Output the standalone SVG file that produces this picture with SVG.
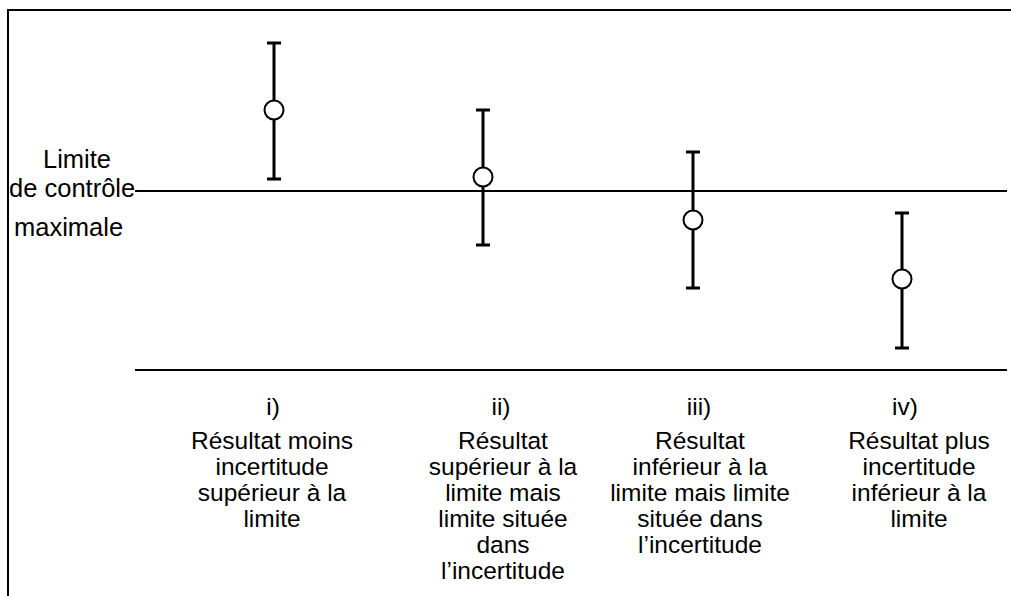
<svg xmlns="http://www.w3.org/2000/svg" width="1011" height="596" viewBox="0 0 1011 596">
  <style>
    .frame { fill: none; stroke: #000; stroke-width: 2; }
    .axis { stroke: #000; stroke-width: 2; }
    .bar { stroke: #000; stroke-width: 3; fill: none; }
    .pt { fill: #fff; stroke: #000; stroke-width: 2; }
    .lbl { font-family: "Liberation Sans", Arial, sans-serif; font-size: 25.5px; fill: #000; }
    .cap { font-family: "Liberation Sans", Arial, sans-serif; font-size: 24.5px; fill: #000; text-anchor: middle; }
  </style>
  <rect width="1011" height="596" fill="#fff"/>

  <!-- outer frame (top and left edges) -->
  <path class="frame" d="M8,596 V10 H1011"/>

  <!-- reference lines -->
  <g id="connectors">
    <line class="axis" x1="135" y1="191" x2="1007" y2="191"/>
    <line class="axis" x1="135" y1="370" x2="1007" y2="370"/>
  </g>

  <!-- limit label -->
  <g id="limit-label">
    <text class="lbl" x="43" y="168">Limite</text>
    <text class="lbl" x="9" y="197">de contrôle</text>
    <text class="lbl" x="14" y="236">maximale</text>
  </g>

  <!-- error bars -->
  <g id="bar-i">
    <path class="bar" d="M274,43 V179 M267,43 H281 M267,179 H281"/>
    <circle class="pt" cx="274" cy="110" r="9.5"/>
  </g>
  <g id="bar-ii">
    <path class="bar" d="M483,110 V245 M476,110 H490 M476,245 H490"/>
    <circle class="pt" cx="483" cy="177" r="9.5"/>
  </g>
  <g id="bar-iii">
    <path class="bar" d="M693,152 V288 M686,152 H700 M686,288 H700"/>
    <circle class="pt" cx="693" cy="220" r="9.5"/>
  </g>
  <g id="bar-iv">
    <path class="bar" d="M902,213 V348 M895,213 H909 M895,348 H909"/>
    <circle class="pt" cx="902" cy="279" r="9.5"/>
  </g>

  <!-- case captions -->
  <g id="caption-i">
    <text class="cap" x="273" y="415">i)</text>
    <text class="cap" x="272" y="449">Résultat moins</text>
    <text class="cap" x="272" y="475">incertitude</text>
    <text class="cap" x="272" y="501">supérieur à la</text>
    <text class="cap" x="272" y="527">limite</text>
  </g>
  <g id="caption-ii">
    <text class="cap" x="501" y="415">ii)</text>
    <text class="cap" x="503" y="449">Résultat</text>
    <text class="cap" x="503" y="475">supérieur à la</text>
    <text class="cap" x="503" y="501">limite mais</text>
    <text class="cap" x="503" y="527">limite située</text>
    <text class="cap" x="503" y="553">dans</text>
    <text class="cap" x="503" y="579">l’incertitude</text>
  </g>
  <g id="caption-iii">
    <text class="cap" x="699" y="415">iii)</text>
    <text class="cap" x="700" y="449">Résultat</text>
    <text class="cap" x="700" y="475">inférieur à la</text>
    <text class="cap" x="700" y="501">limite mais limite</text>
    <text class="cap" x="700" y="527">située dans</text>
    <text class="cap" x="700" y="553">l’incertitude</text>
  </g>
  <g id="caption-iv">
    <text class="cap" x="905" y="415">iv)</text>
    <text class="cap" x="919" y="449">Résultat plus</text>
    <text class="cap" x="919" y="475">incertitude</text>
    <text class="cap" x="919" y="501">inférieur à la</text>
    <text class="cap" x="919" y="527">limite</text>
  </g>
</svg>
